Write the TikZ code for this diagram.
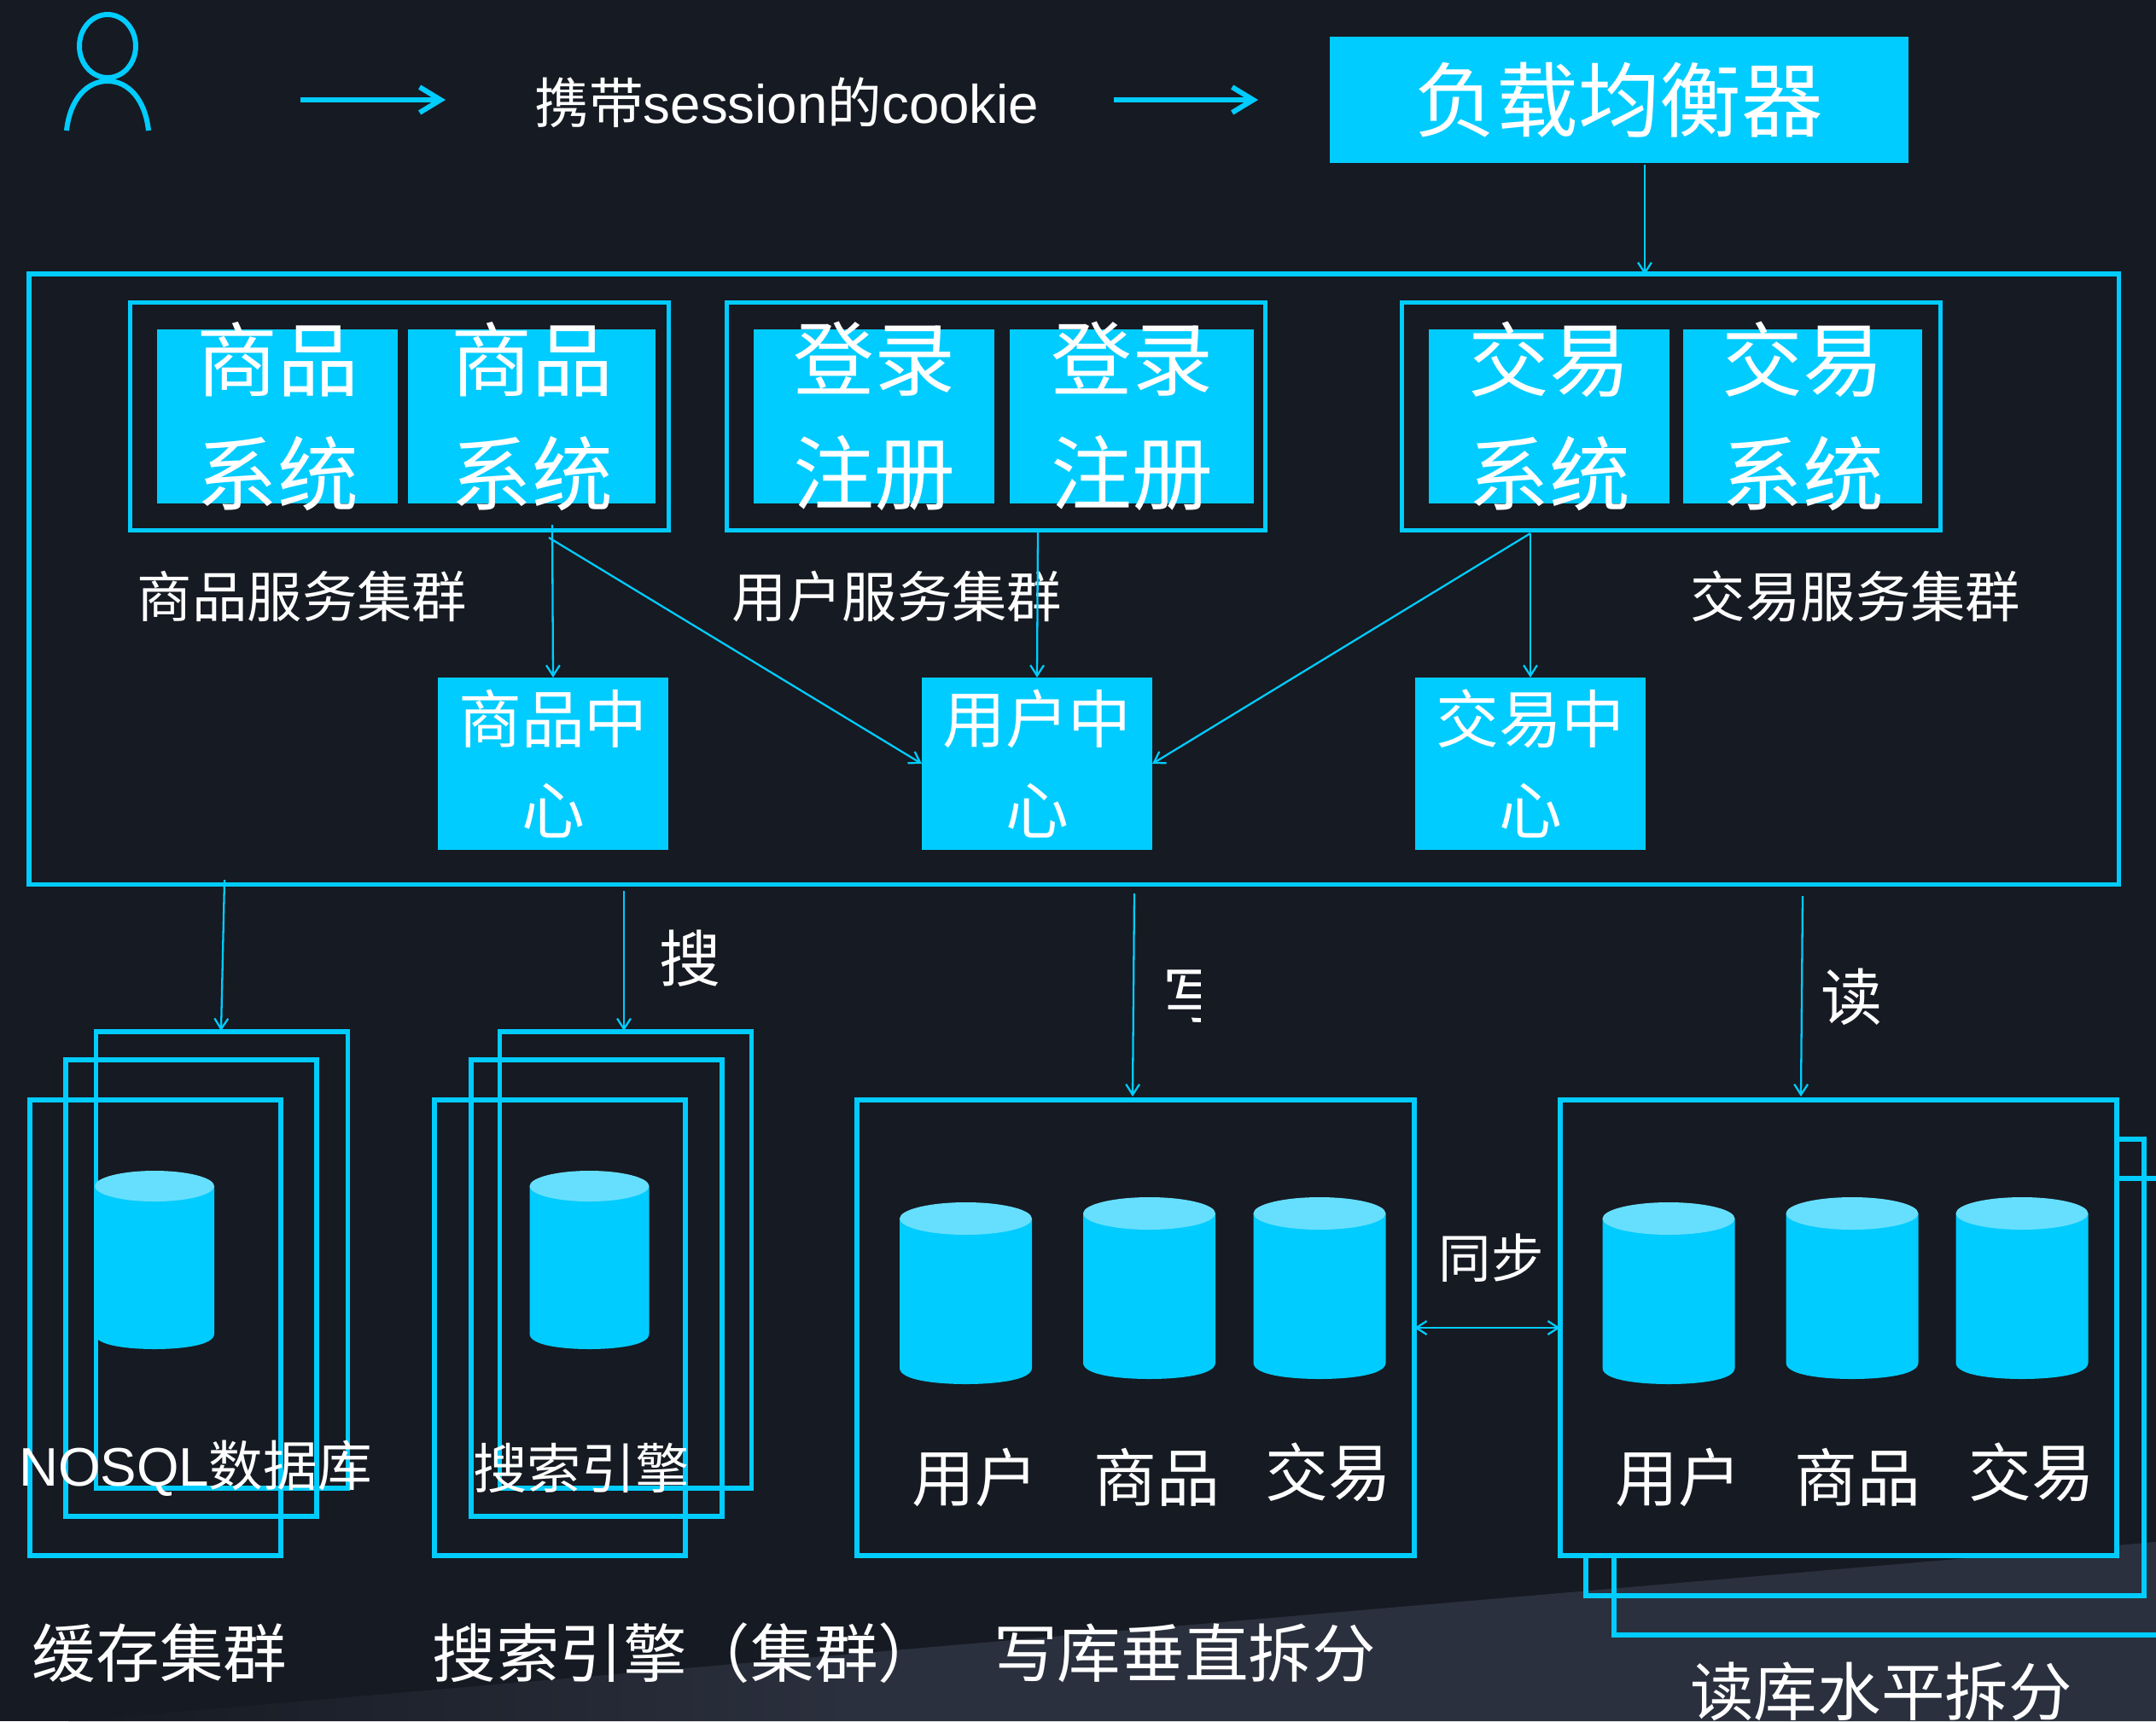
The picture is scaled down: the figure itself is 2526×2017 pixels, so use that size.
\documentclass[tikz,border=0pt]{standalone}
\usepackage{fontspec}
\setmainfont{Noto Sans CJK SC}
\newfontfamily\latinfont{Liberation Sans}
\usetikzlibrary{arrows.meta}
\definecolor{bgdark}{HTML}{161A22}
\definecolor{bglight}{HTML}{2B303E}
\definecolor{linecol}{HTML}{00CCFF}
\definecolor{capcol}{HTML}{66DFFF}
\newcommand{\pxfont}[2]{\fontsize{#1}{#2}\selectfont}
% centre x, top, bottom, half width, half height of the end
\newcommand{\dbcan}[5]{
    \fill[linecol] (#1-#4,#2+#5) -- (#1-#4,#3-#5) .. controls (#1-#4,#3-#5*0.2) and (#1-#4*0.4,#3) .. (#1,#3) .. controls (#1+#4*0.4,#3) and (#1+#4,#3-#5*0.2) .. (#1+#4,#3-#5) -- (#1+#4,#2+#5) -- cycle;
    \fill[capcol] (#1,#2+#5) ellipse (#4 and #5);
}
\begin{document}
\begin{tikzpicture}[x=0.01cm,y=-0.01cm,>={Straight Barb[length=3.5pt,width=4.5pt]},
    frame/.style={draw=linecol,line width=1.55pt},
    hostbox/.style={fill=linecol,inner sep=0pt,outer sep=0pt},
    thinline/.style={draw=linecol,line width=0.65pt,->},
    bigline/.style={draw=linecol,line width=1.7pt,->,>={Straight Barb[length=7pt,width=8.5pt]}},
    sysfont/.style={text=white,align=center,font=\pxfont{27}{38}},
    midfont/.style={text=white,align=center,font=\pxfont{21}{30.4}},
    txt/.style={text=white,inner sep=0pt,font=\pxfont{18.3}{22}},
    caption/.style={text=white,inner sep=0pt,font=\pxfont{21.2}{26}}]
    \useasboundingbox (0,0) rectangle (2526,2017);
    \fill[bgdark] (0,0) rectangle (2526,2017);
    \shade[left color=bgdark,right color=bglight] (80,2017) -- (1000,1938) -- (1000,2017) -- cycle;
    \fill[bglight] (1000,1938) -- (2526,1807) -- (2526,2017) -- (1000,2017) -- cycle;

    % top row
    \draw[frame,line width=1.7pt] (126,54) ellipse (33 and 37);
    \draw[frame,line width=1.7pt] (78,153) .. controls (82,116) and (102,95) .. (126,95) .. controls (150,95) and (170,116) .. (174,153);
    \coordinate (arrowa) at (352,117);
    \coordinate (arrowb) at (522,117);
    \coordinate (arrowc) at (1305,117);
    \coordinate (arrowd) at (1474,117);
    \node[txt,font=\pxfont{18.1}{22}] (cookie) at (922,120) {携带{\latinfont session}的{\latinfont cookie}};
    \node[hostbox,minimum width=6.78cm,minimum height=1.47cm,text=white,font=\pxfont{27.2}{32}] (balancer) at (1897,117) {负载均衡器};
    \draw[bigline] (arrowa) -- (arrowb);
    \draw[bigline] (arrowc) -- (arrowd);

    % service clusters
    \node[frame,inner sep=0pt,outer sep=0pt,minimum width=24.47cm,minimum height=7.15cm] (outer) at (1258,678.5) {};
    \node[frame,inner sep=0pt,minimum width=6.31cm,minimum height=2.67cm] (goodsgroup) at (468,488) {};
    \node[frame,inner sep=0pt,minimum width=6.31cm,minimum height=2.67cm] (usergroup) at (1167,488) {};
    \node[frame,inner sep=0pt,minimum width=6.31cm,minimum height=2.67cm] (tradegroup) at (1958,488) {};

    \node[hostbox,minimum width=2.81cm,minimum height=2.03cm,label={[sysfont]center:商品\\系统}] (goodsa) at (325,488) {};
    \node[hostbox,minimum width=2.90cm,minimum height=2.03cm,label={[sysfont]center:商品\\系统}] (goodsb) at (623,488) {};
    \node[hostbox,minimum width=2.82cm,minimum height=2.03cm,label={[sysfont]center:登录\\注册}] (logina) at (1024,488) {};
    \node[hostbox,minimum width=2.85cm,minimum height=2.03cm,label={[sysfont]center:登录\\注册}] (loginb) at (1326,488) {};
    \node[hostbox,minimum width=2.82cm,minimum height=2.03cm,label={[sysfont]center:交易\\系统}] (tradea) at (1815,488) {};
    \node[hostbox,minimum width=2.80cm,minimum height=2.03cm,label={[sysfont]center:交易\\系统}] (tradeb) at (2112,488) {};

    \node[txt] (goodslabel) at (354,699) {商品服务集群};
    \node[txt] (userlabel) at (1051,699) {用户服务集群};
    \node[txt] (tradelabel) at (2174,699) {交易服务集群};

    \node[hostbox,minimum width=2.69cm,minimum height=2.02cm,label={[midfont]center:商品中\\心}] (goodscenter) at (648,895) {};
    \node[hostbox,minimum width=2.70cm,minimum height=2.02cm,label={[midfont]center:用户中\\心}] (usercenter) at (1215,895) {};
    \node[hostbox,minimum width=2.70cm,minimum height=2.02cm,label={[midfont]center:交易中\\心}] (tradecenter) at (1793,895) {};

    \coordinate (goodsout) at (647,615);
    \coordinate (goodsdiag) at (643,630);
    \coordinate (userout) at (1216,623);
    \coordinate (tradeout) at (1793,625);
    \coordinate (lbout) at (1927,193);
    \coordinate (lbin) at (1927,322);
    \draw[thinline] (lbout) -- (lbin);
    \draw[thinline] (goodsout) -- (goodscenter.north);
    \draw[thinline] (goodsdiag) -- (usercenter.west);
    \draw[thinline] (userout) -- (usercenter.north);
    \draw[thinline] (tradeout) -- (usercenter.east);
    \draw[thinline] (tradeout) -- (tradecenter.north);

    % cache stack
    \node[frame,inner sep=0pt,minimum width=2.95cm,minimum height=5.35cm] (cacheback) at (260,1476.5) {};
    \node[frame,inner sep=0pt,minimum width=2.94cm,minimum height=5.35cm] (cachemid) at (224,1509.5) {};
    \node[frame,inner sep=0pt,minimum width=2.94cm,minimum height=5.34cm] (cachefront) at (182,1556) {};
    \dbcan{181}{1372}{1581}{70}{18}
    \node[txt,font=\pxfont{18.1}{22}] (nosql) at (229,1721) {{\latinfont NOSQL}数据库};
    \node[caption] (cachelabel) at (187,1937) {缓存集群};

    % search stack
    \node[frame,inner sep=0pt,minimum width=2.95cm,minimum height=5.35cm] (searchback) at (733,1476.5) {};
    \node[frame,inner sep=0pt,minimum width=2.94cm,minimum height=5.35cm] (searchmid) at (699,1509.5) {};
    \node[frame,inner sep=0pt,minimum width=2.94cm,minimum height=5.34cm] (searchfront) at (656,1556) {};
    \dbcan{690.5}{1372}{1581}{70}{18}
    \node[txt,font=\pxfont{18}{22}] (searchtxt) at (681,1720) {搜索引擎};
    \node[caption,anchor=west] (searchlabel) at (506,1937) {搜索引擎（集群）};

    % write and read
    \node[frame,inner sep=0pt,outer sep=0pt,minimum width=6.53cm,minimum height=5.34cm] (writebox) at (1330.5,1556) {};
    \node[frame,inner sep=0pt,minimum width=6.54cm,minimum height=5.35cm] (readthird) at (2218,1648.5) {};
    \node[frame,inner sep=0pt,minimum width=6.54cm,minimum height=5.35cm] (readsecond) at (2185,1602.5) {};
    \node[frame,fill=bgdark,inner sep=0pt,outer sep=0pt,minimum width=6.52cm,minimum height=5.34cm] (readbox) at (2154,1556) {};

    \dbcan{1131.5}{1409}{1622}{77.5}{19}
    \dbcan{1346.5}{1403}{1616}{77.5}{19}
    \dbcan{1546}{1403}{1616}{77.5}{19}
    \dbcan{1955}{1409}{1622}{77.5}{19}
    \dbcan{2170}{1403}{1616}{77.5}{19}
    \dbcan{2369}{1403}{1616}{77.5}{19}

    \node[caption,font=\pxfont{21}{24}] (wusertxt) at (1142,1731) {用户};
    \node[caption,font=\pxfont{21}{24}] (wgoodstxt) at (1355,1731) {商品};
    \node[caption,font=\pxfont{21}{24}] (wtradetxt) at (1556,1725) {交易};
    \node[caption,font=\pxfont{21}{24}] (rusertxt) at (1966,1731) {用户};
    \node[caption,font=\pxfont{21}{24}] (rgoodstxt) at (2176,1731) {商品};
    \node[caption,font=\pxfont{21}{24}] (rtradetxt) at (2380,1725) {交易};
    \node[txt,font=\pxfont{17.5}{20}] (sync) at (1747,1474) {同步};
    \draw[thinline,<->] (writebox.east) -- (readbox.west);

    \node[caption] (writelabel) at (1388,1937) {写库垂直拆分};
    \node[caption] (readlabel) at (2204,1982) {读库水平拆分};

    % read and write links
    \coordinate (cachein) at (263,1031);
    \coordinate (searchin) at (731,1044);
    \coordinate (writein) at (1329,1047);
    \coordinate (readin) at (2112,1050);
    \draw[thinline] (cachein) -- (259,1208);
    \draw[thinline] (searchin) -- (731,1208);
    \draw[thinline] (writein) -- (1327,1285);
    \draw[thinline] (readin) -- (2110,1285);
    \node[caption,font=\pxfont{20.5}{24}] (searchtag) at (809,1123) {搜};
    \node[caption,font=\pxfont{20.5}{24}] (readtag) at (2170,1168) {读};
    \begin{scope}
        \clip (1360,1130) rectangle (1406,1202);
        \node[caption,font=\pxfont{20.5}{24}] (writetag) at (1399,1168) {写};
    \end{scope}
\end{tikzpicture}
\end{document}
